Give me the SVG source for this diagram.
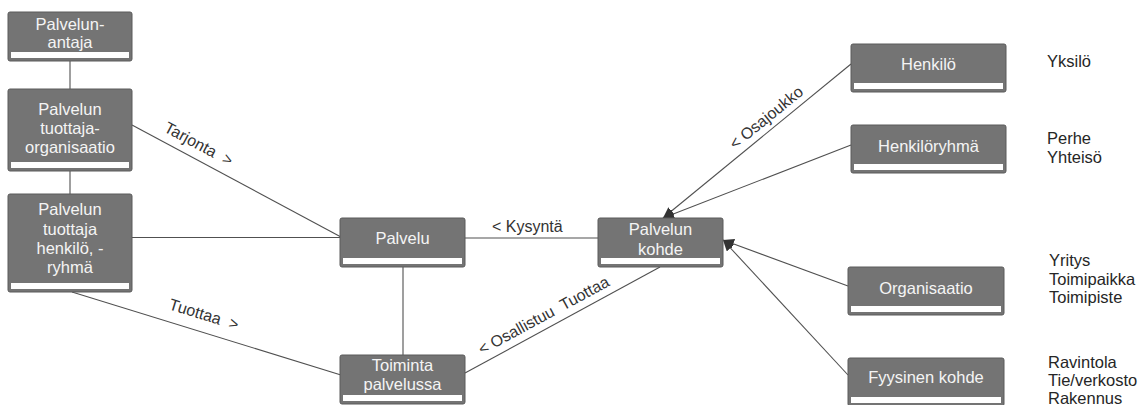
<svg xmlns="http://www.w3.org/2000/svg" width="1139" height="405" viewBox="0 0 1139 405">
<style>
.box{fill:#747474;stroke:#5a5a5a;stroke-width:1}
.bar{fill:#ffffff}
.bt{font-family:"Liberation Sans",Arial,sans-serif;font-size:16.5px;fill:#f4f4f4;text-anchor:middle}
.lbl{font-family:"Liberation Sans",Arial,sans-serif;font-size:16px;fill:#333333;white-space:pre}
.side{font-family:"Liberation Sans",Arial,sans-serif;font-size:16.5px;fill:#262626}
.ln{stroke:#505050;stroke-width:1.1;fill:none}
.arr{marker-end:url(#ah)}
</style>
<defs>
<marker id="ah" markerWidth="12" markerHeight="10" refX="11" refY="5" orient="auto" markerUnits="userSpaceOnUse">
<path d="M0,0 L11,5 L0,10 Z" fill="#333333"/>
</marker>
</defs>
<rect width="1139" height="405" fill="#ffffff"/>
<g id="connectors">
<line class="ln" x1="70" y1="61" x2="70" y2="89"/>
<line class="ln" x1="70" y1="171" x2="70" y2="194"/>
<line class="ln" x1="132" y1="125" x2="341" y2="237"/>
<line class="ln" x1="132" y1="237.5" x2="340" y2="237.5"/>
<line class="ln" x1="72" y1="292" x2="341" y2="375"/>
<line class="ln" x1="465" y1="238" x2="598" y2="238"/>
<line class="ln" x1="403" y1="267" x2="403" y2="355"/>
<line class="ln" x1="465" y1="373" x2="660" y2="267"/>
<line class="ln arr" x1="851" y1="64" x2="663" y2="218"/>
<line class="ln arr" x1="851" y1="145" x2="663" y2="218"/>
<line class="ln arr" x1="848" y1="286" x2="723" y2="240"/>
<line class="ln arr" x1="848" y1="375" x2="723" y2="240"/>
<text class="lbl" transform="translate(163,131) rotate(28.2)">Tarjonta  &gt;</text>
<text class="lbl" transform="translate(168,309) rotate(17.1)">Tuottaa  &gt;</text>
<text class="lbl" x="492" y="232">&lt; Kysyntä</text>
<text class="lbl" transform="translate(482,355) rotate(-28.5)">&lt; Osallistuu  Tuottaa</text>
<text class="lbl" transform="translate(735,150) rotate(-39.1)">&lt; Osajoukko</text>
</g>
<g id="palvelun-antaja">
<rect class="box" x="8" y="12" width="124" height="49" rx="2"/>
<rect class="bar" x="11" y="52" width="118" height="6"/>
<text class="bt" x="70" y="30">Palvelun-</text>
<text class="bt" x="70" y="48">antaja</text>
</g>
<g id="palvelun-tuottaja-organisaatio">
<rect class="box" x="8" y="89" width="124" height="82" rx="2"/>
<rect class="bar" x="11" y="162" width="118" height="6"/>
<text class="bt" x="70" y="115">Palvelun</text>
<text class="bt" x="70" y="134">tuottaja-</text>
<text class="bt" x="70" y="153">organisaatio</text>
</g>
<g id="palvelun-tuottaja-henkilo">
<rect class="box" x="8" y="194" width="124" height="98" rx="2"/>
<rect class="bar" x="11" y="283" width="118" height="6"/>
<text class="bt" x="70" y="215">Palvelun</text>
<text class="bt" x="70" y="235">tuottaja</text>
<text class="bt" x="70" y="254">henkilö, -</text>
<text class="bt" x="70" y="273">ryhmä</text>
</g>
<g id="palvelu">
<rect class="box" x="340" y="218" width="125" height="49" rx="2"/>
<rect class="bar" x="343" y="258" width="119" height="6"/>
<text class="bt" x="402.5" y="244">Palvelu</text>
</g>
<g id="palvelun-kohde">
<rect class="box" x="598" y="218" width="125" height="49" rx="2"/>
<rect class="bar" x="601" y="258" width="119" height="6"/>
<text class="bt" x="660.5" y="235">Palvelun</text>
<text class="bt" x="660.5" y="255">kohde</text>
</g>
<g id="toiminta-palvelussa">
<rect class="box" x="340" y="355" width="125" height="49" rx="2"/>
<rect class="bar" x="343" y="395" width="119" height="6"/>
<text class="bt" x="402.5" y="371">Toiminta</text>
<text class="bt" x="402.5" y="390">palvelussa</text>
</g>
<g id="henkilo">
<rect class="box" x="851" y="44" width="155" height="48" rx="2"/>
<rect class="bar" x="854" y="83" width="149" height="6"/>
<text class="bt" x="928.5" y="70">Henkilö</text>
</g>
<g id="henkiloryhma">
<rect class="box" x="851" y="125" width="155" height="48" rx="2"/>
<rect class="bar" x="854" y="164" width="149" height="6"/>
<text class="bt" x="928.5" y="152">Henkilöryhmä</text>
</g>
<g id="organisaatio">
<rect class="box" x="848" y="267" width="156" height="48" rx="2"/>
<rect class="bar" x="851" y="306" width="150" height="6"/>
<text class="bt" x="926" y="294">Organisaatio</text>
</g>
<g id="fyysinen-kohde">
<rect class="box" x="848" y="358" width="156" height="48" rx="2"/>
<rect class="bar" x="851" y="397" width="150" height="6"/>
<text class="bt" x="926" y="383">Fyysinen kohde</text>
</g>
<g id="side-notes">
<text class="side" x="1047" y="67">Yksilö</text>
<text class="side" x="1047" y="144">Perhe</text>
<text class="side" x="1047" y="163">Yhteisö</text>
<text class="side" x="1049" y="266">Yritys</text>
<text class="side" x="1049" y="285">Toimipaikka</text>
<text class="side" x="1049" y="303">Toimipiste</text>
<text class="side" x="1048" y="368">Ravintola</text>
<text class="side" x="1048" y="386">Tie/verkosto</text>
<text class="side" x="1048" y="404">Rakennus</text>
</g>
</svg>
